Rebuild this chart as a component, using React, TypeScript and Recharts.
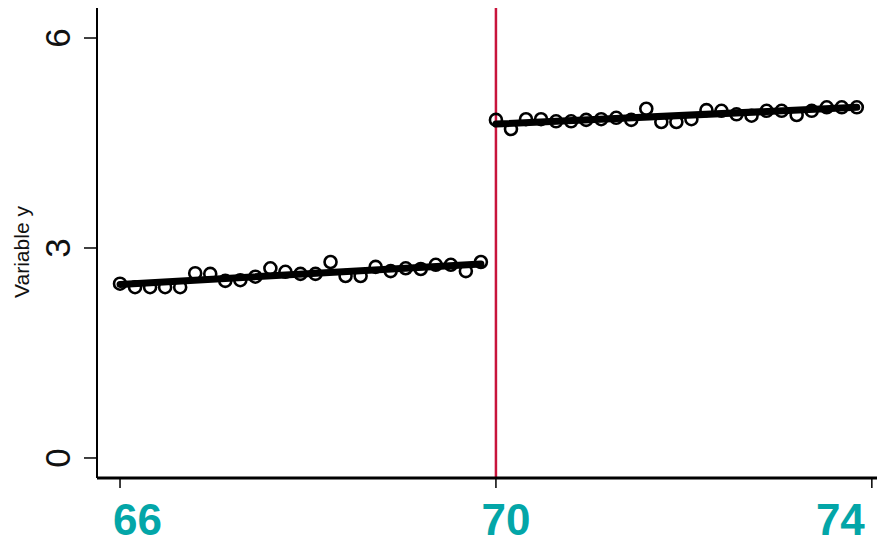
import { ScatterChart, Scatter, XAxis, YAxis, ReferenceLine } from 'recharts'

// running variable (x) and outcome (y), before and after the cutoff at 70
const leftX = [66.0, 66.16, 66.32, 66.48, 66.64, 66.8, 66.96, 67.12, 67.28, 67.44, 67.6, 67.76, 67.92,
  68.08, 68.24, 68.4, 68.56, 68.72, 68.88, 69.04, 69.2, 69.36, 69.52, 69.68, 69.84]
const leftY = [2.49, 2.44, 2.44, 2.44, 2.44, 2.64, 2.63, 2.53, 2.54, 2.59, 2.71, 2.66, 2.63,
  2.63, 2.8, 2.6, 2.6, 2.73, 2.67, 2.71, 2.7, 2.76, 2.76, 2.67, 2.8]
const rightX = [70.0, 70.16, 70.32, 70.48, 70.64, 70.8, 70.96, 71.12, 71.28, 71.44, 71.6, 71.76, 71.92,
  72.08, 72.24, 72.4, 72.56, 72.72, 72.88, 73.04, 73.2, 73.36, 73.52, 73.68, 73.84]
const rightY = [4.83, 4.7, 4.84, 4.84, 4.81, 4.81, 4.83, 4.84, 4.86, 4.83, 4.99, 4.8, 4.8,
  4.84, 4.97, 4.96, 4.91, 4.89, 4.96, 4.96, 4.9, 4.96, 5.01, 5.01, 5.01]

// fitted lines on each side
const fitLeftX = [66.0, 69.84]
const fitLeftY = [2.48, 2.77]
const fitRightX = [70.0, 73.84]
const fitRightY = [4.77, 5.01]

const cutoff = 70
const xTicks = [66, 70, 74]
const yTicks = [0, 3, 6]

const toPoints = (xs: number[], ys: number[]) => xs.map((x, i) => ({ x, y: ys[i] }))

const YTick = ({ x, y, payload }: any) => {
  const bx = x - 12
  return (
    <text x={bx} y={y} transform={`rotate(-90 ${bx} ${y})`} textAnchor="middle"
      fontFamily="Liberation Sans, Arial, sans-serif" fontSize={35} fill="#111">
      {payload.value}
    </text>
  )
}

// the labels in the original sit a little off their ticks
const xLabelPlacement: Record<number, { anchor: 'start' | 'middle' | 'end'; dx: number }> = {
  66: { anchor: 'start', dx: -7 },
  70: { anchor: 'middle', dx: 10 },
  74: { anchor: 'end', dx: -7 },
}

const XTick = ({ x, y, payload }: any) => {
  const p = xLabelPlacement[payload.value] ?? { anchor: 'middle', dx: 0 }
  return (
    <text x={x + p.dx} y={y + 45} textAnchor={p.anchor}
      fontFamily="'Liberation Sans Narrow', 'Liberation Sans', Arial, sans-serif"
      fontWeight="bold" fontSize={44} fill="#03a6a8">
      {payload.value}
    </text>
  )
}

const Circle = ({ cx, cy }: any) => (
  <circle cx={cx} cy={cy} r={6} fill="none" stroke="#000" strokeWidth={2.6} />
)

export default function App() {
  return (
    <div style={{ margin: -8, width: 885, height: 545, background: '#fff', position: 'relative' }}>
      <ScatterChart width={885} height={545} margin={{ top: 0, right: 0, bottom: 0, left: 0 }}>
        <XAxis type="number" dataKey="x" domain={[65.755, 74.14]} allowDataOverflow ticks={xTicks}
          height={67} tickSize={10} tick={<XTick />} axisLine={{ stroke: '#000', strokeWidth: 3 }}
          tickLine={{ stroke: '#000', strokeWidth: 1.5 }} />
        <YAxis type="number" dataKey="y" domain={[-0.286, 6.543]} allowDataOverflow ticks={yTicks}
          width={97} tickSize={13} tick={<YTick />} axisLine={{ stroke: '#000', strokeWidth: 2 }}
          tickLine={{ stroke: '#000', strokeWidth: 1.5 }} />
        <ReferenceLine x={cutoff} stroke="#c8143c" strokeWidth={2.5} />
        <Scatter data={toPoints(leftX, leftY)} shape={<Circle />} isAnimationActive={false} />
        <Scatter data={toPoints(rightX, rightY)} shape={<Circle />} isAnimationActive={false} />
        <Scatter data={toPoints(fitLeftX, fitLeftY)} shape={() => <g />}
          line={{ stroke: '#000', strokeWidth: 7, strokeLinecap: 'round' }} isAnimationActive={false} />
        <Scatter data={toPoints(fitRightX, fitRightY)} shape={() => <g />}
          line={{ stroke: '#000', strokeWidth: 7, strokeLinecap: 'round' }} isAnimationActive={false} />
      </ScatterChart>
      <div style={{
        position: 'absolute', left: 22, top: 252, transform: 'translate(-50%, -50%) rotate(-90deg)',
        fontFamily: 'Liberation Sans, Arial, sans-serif', fontSize: 21, whiteSpace: 'nowrap', color: '#111'
      }}>Variable y</div>
    </div>
  )
}
